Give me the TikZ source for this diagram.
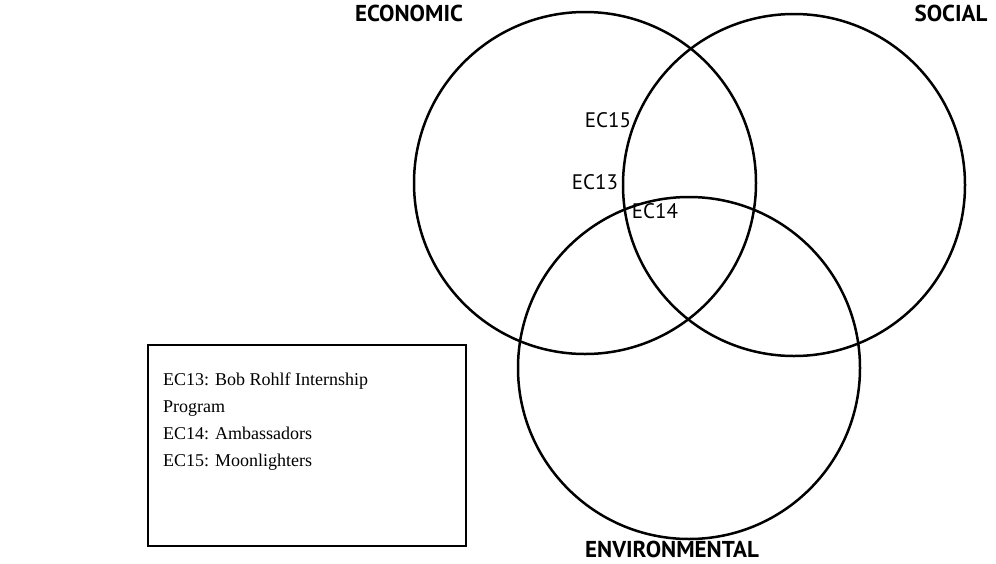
\documentclass[tikz,border=0pt]{standalone}
\usepackage{fontspec}
\setmainfont{Liberation Serif}
\newfontfamily\labelfont{PT Sans}
\usetikzlibrary{shapes,positioning}
\tikzset{ring/.style={circle,draw,line width=2.5pt,minimum size=342pt,inner sep=0pt}}
\tikzset{head/.style={font=\labelfont\bfseries\fontsize{23}{23}\selectfont,inner sep=0pt}}
\tikzset{tag/.style={font=\labelfont\fontsize{21}{21}\selectfont,inner sep=0pt}}

\begin{document}
\begin{tikzpicture}[x=1pt,y=-1pt]
    \useasboundingbox (0,0) rectangle (996,563);
        \node[ring] (eco) at (585,183) {};
        \node[ring] (soc) at (794,185) {};
        \node[ring] (env) at (689,368) {};

        \node[head] (ecolab) at (409,13) {ECONOMIC};
        \node[head] (soclab) at (951,13) {SOCIAL};
        \node[head] (envlab) at (672,549) {ENVIRONMENTAL};

        \node[tag] (ec15) at (608,120) {EC15};
        \node[tag] (ec13) at (595,182) {EC13};
        \node[tag] (ec14) at (655,211) {EC14};

        \node[draw,line width=1.2pt,minimum width=318pt,minimum height=201pt,inner sep=0pt] (legend) at (307,445.5) {};
        \node[anchor=north west,align=left,inner sep=0pt,font=\fontsize{18}{27}\selectfont] (legendtext) at (163,373) {EC13: Bob Rohlf Internship\\Program\\EC14: Ambassadors\\EC15: Moonlighters};
\end{tikzpicture}
\end{document}
